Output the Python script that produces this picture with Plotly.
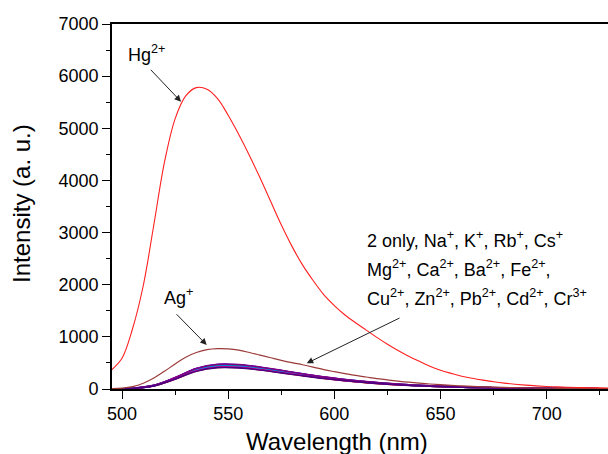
import plotly.graph_objects as go

# ---------------- data ----------------
wl = [495, 500, 505, 510, 515, 520, 525, 530, 535, 540, 545, 550, 555, 560, 565, 570,
      575, 580, 585, 590, 595, 600, 605, 610, 615, 620, 625, 630, 635, 640, 645, 650,
      655, 660, 665, 670, 675, 680, 685, 690, 695, 700, 705, 710, 715, 720, 725, 730]

hg = [365, 590, 1160, 1980, 3150, 4350, 5180, 5620, 5780, 5750, 5570, 5250, 4880, 4480, 4050, 3600,
      3150, 2740, 2380, 2080, 1810, 1600, 1420, 1270, 1130, 990, 860, 740, 630, 530, 435, 360,
      300, 245, 205, 170, 138, 112, 92, 74, 60, 49, 41, 34, 29, 25, 22, 20]

ag = [5, 15, 45, 110, 210, 340, 480, 610, 700, 755, 775, 770, 745, 700, 650, 600,
      550, 505, 465, 420, 372, 332, 295, 260, 230, 200, 175, 150, 130, 112, 96, 82,
      70, 60, 50, 42, 35, 30, 25, 21, 18, 15, 13, 11, 10, 9, 8, 7]

wl_c = [495, 505, 515, 525, 535, 545, 555, 565, 575, 585, 595, 605, 615, 625, 635, 645,
        655, 665, 675, 685, 695, 705, 715, 725, 735]

only2 = [2, 12, 63, 198, 357, 430, 425, 382, 324, 266, 211, 164, 128, 97, 73, 55, 42, 31, 23, 17, 13, 10, 7, 6, 5]
na = [2, 12, 66, 210, 378, 455, 450, 404, 342, 281, 223, 174, 135, 102, 78, 58, 44, 33, 25, 18, 13, 10, 7, 6, 5]
k = [2, 13, 69, 216, 391, 470, 465, 417, 354, 290, 230, 180, 139, 106, 80, 60, 45, 34, 25, 19, 14, 11, 7, 6, 5]
rb = [2, 12, 65, 205, 370, 445, 440, 395, 335, 275, 218, 170, 132, 100, 76, 57, 43, 32, 24, 18, 13, 10, 7, 6, 5]
cs = [2, 12, 67, 212, 383, 460, 455, 408, 346, 284, 225, 176, 136, 103, 79, 59, 44, 33, 25, 19, 13, 10, 7, 6, 5]
mg = [2, 12, 64, 203, 366, 440, 435, 391, 331, 272, 216, 168, 131, 99, 75, 56, 43, 32, 24, 18, 13, 10, 7, 6, 5]
ca = [2, 13, 68, 214, 387, 465, 460, 413, 350, 287, 228, 178, 138, 105, 79, 60, 45, 33, 25, 19, 14, 10, 7, 6, 5]
ba = [2, 11, 62, 196, 353, 425, 420, 377, 320, 263, 208, 162, 126, 96, 73, 54, 41, 31, 23, 17, 12, 10, 7, 6, 5]
fe = [2, 11, 61, 191, 345, 415, 411, 369, 313, 257, 203, 159, 123, 93, 71, 53, 40, 30, 22, 17, 12, 9, 7, 6, 5]
cu = [2, 12, 66, 207, 374, 450, 445, 399, 339, 278, 220, 172, 133, 101, 77, 58, 43, 32, 24, 18, 13, 10, 7, 6, 5]
zn = [2, 12, 64, 200, 362, 435, 430, 386, 328, 269, 213, 166, 129, 98, 74, 56, 42, 31, 23, 18, 13, 10, 7, 6, 5]
pb = [2, 11, 61, 194, 349, 420, 415, 373, 316, 260, 206, 160, 125, 94, 72, 54, 41, 30, 23, 17, 12, 9, 7, 6, 5]
cd = [2, 13, 69, 219, 395, 475, 470, 422, 358, 293, 233, 181, 141, 107, 81, 61, 46, 34, 26, 19, 14, 11, 7, 6, 5]
cr = [2, 11, 60, 189, 341, 410, 405, 364, 309, 253, 201, 157, 122, 92, 70, 52, 40, 29, 22, 17, 12, 9, 6, 6, 5]

cluster_names = ["2 only", "Na+", "K+", "Rb+", "Cs+", "Mg2+", "Ca2+", "Ba2+",
                 "Fe2+", "Cu2+", "Zn2+", "Pb2+", "Cd2+", "Cr3+"]
cluster_values = [only2, na, k, rb, cs, mg, ca, ba, fe, cu, zn, pb, cd, cr]
cluster_colors = ["#000000", "#ff0000", "#0000ff", "#ff00ff", "#808000", "#000080",
                  "#8000ff", "#800000", "#ff8000", "#008080", "#0080ff", "#ff0080",
                  "#800080", "#4b0082"]

x_ticks = [500, 550, 600, 650, 700]
y_ticks = [0, 1000, 2000, 3000, 4000, 5000, 6000, 7000]

FONT = "Liberation Sans, Arial, sans-serif"

fig = go.Figure()

for name, vals, col in zip(cluster_names, cluster_values, cluster_colors):
    fig.add_trace(go.Scatter(x=wl_c, y=vals, mode="lines", name=name,
                             line=dict(color=col, width=1.6, shape="spline")))

fig.add_trace(go.Scatter(x=wl, y=ag, mode="lines", name="Ag+",
                         line=dict(color="#9c3a3a", width=1.2, shape="spline")))
fig.add_trace(go.Scatter(x=wl, y=hg, mode="lines", name="Hg2+",
                         line=dict(color="#ff2020", width=1.1, shape="spline")))

ann_font = dict(family=FONT, size=18, color="#000000")
list_font = dict(family=FONT, size=18, color="#000000")

annotations = [
    # text labels
    dict(x=501.9, y=6440, xref="x", yref="y", text="Hg<sup>2+</sup>", showarrow=False,
         xanchor="left", yanchor="middle", font=ann_font),
    dict(x=518.7, y=1770, xref="x", yref="y", text="Ag<sup>+</sup>", showarrow=False,
         xanchor="left", yanchor="middle", font=ann_font),
    dict(x=614.4, y=2860, xref="x", yref="y",
         text="2 only, Na<sup>+</sup>, K<sup>+</sup>, Rb<sup>+</sup>, Cs<sup>+</sup>",
         showarrow=False, xanchor="left", yanchor="middle", font=list_font),
    dict(x=614.4, y=2315, xref="x", yref="y",
         text="Mg<sup>2+</sup>, Ca<sup>2+</sup>, Ba<sup>2+</sup>, Fe<sup>2+</sup>,",
         showarrow=False, xanchor="left", yanchor="middle", font=list_font),
    dict(x=614.4, y=1760, xref="x", yref="y",
         text="Cu<sup>2+</sup>, Zn<sup>2+</sup>, Pb<sup>2+</sup>, Cd<sup>2+</sup>, Cr<sup>3+</sup>",
         showarrow=False, xanchor="left", yanchor="middle", font=list_font),
    # arrows
    dict(x=527.8, y=5510, ax=512.9, ay=6150, xref="x", yref="y", axref="x", ayref="y",
         text="", showarrow=True, arrowhead=2, arrowsize=1.3, arrowwidth=1, arrowcolor="#222222"),
    dict(x=539.9, y=844, ax=525.0, ay=1463, xref="x", yref="y", axref="x", ayref="y",
         text="", showarrow=True, arrowhead=2, arrowsize=1.3, arrowwidth=1, arrowcolor="#222222"),
    dict(x=587.0, y=493, ax=631.4, ay=1375, xref="x", yref="y", axref="x", ayref="y",
         text="", showarrow=True, arrowhead=2, arrowsize=1.3, arrowwidth=1, arrowcolor="#222222"),
    # axis titles
    dict(x=0.4536, y=-0.185, xref="paper", yref="paper", text="Wavelength (nm)",
         showarrow=False, xanchor="center", yanchor="bottom",
         font=dict(family=FONT, size=24, color="#000000")),
    dict(x=-0.1815, y=0.5096, xref="paper", yref="paper", text="Intensity (a. u.)",
         showarrow=False, xanchor="center", yanchor="middle", textangle=-90,
         font=dict(family=FONT, size=24, color="#000000")),
]

fig.update_layout(
    width=608, height=454,
    margin=dict(l=112, r=0, t=24, b=65),
    paper_bgcolor="white", plot_bgcolor="white",
    showlegend=False,
    font=dict(family=FONT, size=18, color="#000000"),
    annotations=annotations,
)

fig.update_xaxes(range=[495.29, 728.87], tickvals=x_ticks, ticktext=[str(v) for v in x_ticks],
                 ticks="outside", ticklen=8, tickwidth=1.3, tickcolor="#000000",
                 minor=dict(dtick=25, tick0=500, ticks="outside", ticklen=4, tickwidth=1.3, tickcolor="#000000"),
                 showline=True, linecolor="#000000", linewidth=1.6, mirror=True,
                 showgrid=False, zeroline=False,
                 tickfont=dict(family=FONT, size=18, color="#000000"))

fig.update_yaxes(range=[0, 7000], tickvals=y_ticks, ticktext=[str(v) for v in y_ticks],
                 ticks="outside", ticklen=8, tickwidth=1.3, tickcolor="#000000",
                 minor=dict(dtick=500, tick0=0, ticks="outside", ticklen=4, tickwidth=1.3, tickcolor="#000000"),
                 showline=True, linecolor="#000000", linewidth=1.6, mirror=False,
                 showgrid=False, zeroline=False,
                 tickfont=dict(family=FONT, size=18, color="#000000"))

# remove the page's default body margin and any scrollbars so the figure fills the window
page_js = ("document.documentElement.style.margin='0';document.body.style.margin='0';"
           "document.documentElement.style.overflow='hidden';document.body.style.overflow='hidden';")

fig.write_html("out.html", post_script=page_js, config={"displayModeBar": False})
